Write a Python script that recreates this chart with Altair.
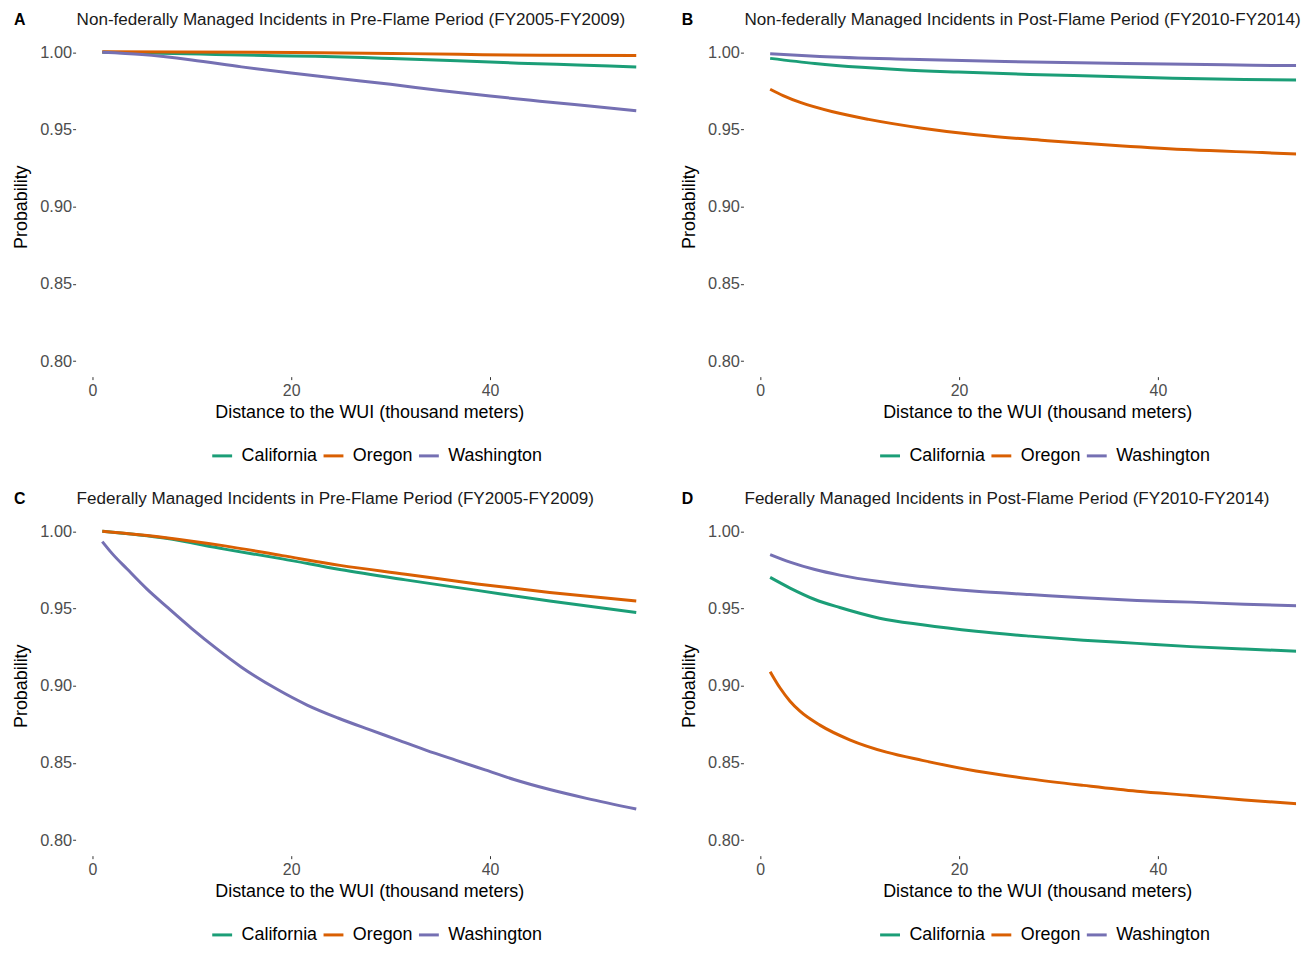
import altair as alt
import pandas as pd

STATES = ["California", "Oregon", "Washington"]
COLORS = ["#1B9E77", "#D95F02", "#7570B3"]
X_TICKS = [0, 20, 40]
Y_TICKS = [0.80, 0.85, 0.90, 0.95, 1.00]
X_TITLE = "Distance to the WUI (thousand meters)"
Y_TITLE = "Probability"

TITLES = [
    "Non-federally Managed Incidents in Pre-Flame Period (FY2005-FY2009)",
    "Non-federally Managed Incidents in Post-Flame Period (FY2010-FY2014)",
    "Federally Managed Incidents in Pre-Flame Period (FY2005-FY2009)",
    "Federally Managed Incidents in Post-Flame Period (FY2010-FY2014)",
]
LETTERS = ["A", "B", "C", "D"]

# Panel A
A_cal_x = [1, 8.2, 12.4, 18.4, 22.4, 27.2, 30.1, 36.7, 42.9, 48.8, 54.7]
A_cal_y = [1.000, 0.9992, 0.9985, 0.9977, 0.9973, 0.9965, 0.9959, 0.9944, 0.9929, 0.9917, 0.9904]
A_ore_x = [1, 20.3, 30.1, 36.9, 45.1, 54.7]
A_ore_y = [1.0003, 0.9998, 0.9992, 0.9986, 0.9980, 0.9978]
A_wa_x = [1, 5, 10, 15, 20, 25, 30, 35, 40, 45, 50, 54.7]
A_wa_y = [1.000, 0.9985, 0.9950, 0.9905, 0.9865, 0.9828, 0.9792, 0.9752, 0.9716, 0.9683, 0.9651, 0.9621]

# Panel B
B_cal_x = [1, 5.5, 10.2, 14.2, 19.9, 27.1, 34.3, 41.5, 48.7, 54.7]
B_cal_y = [0.9960, 0.9927, 0.9902, 0.9886, 0.9871, 0.9856, 0.9844, 0.9831, 0.9823, 0.9819]
B_ore_x = [1, 2.3, 4.1, 7.3, 10.9, 16.3, 21.7, 28.9, 36.1, 43.3, 50.5, 54.7]
B_ore_y = [0.9760, 0.9719, 0.9673, 0.9614, 0.9565, 0.9508, 0.9465, 0.9427, 0.9395, 0.9368, 0.9350, 0.9339]
B_wa_x = [1, 6.0, 14.9, 24.6, 36.8, 44.8, 49.5, 54.7]
B_wa_y = [0.9990, 0.9972, 0.9954, 0.9940, 0.9927, 0.9921, 0.9915, 0.9913]

# Panel C
C_cal_x = [1, 7.4, 13.3, 19.1, 24.9, 31.5, 38.7, 46.0, 54.7]
C_cal_y = [1.000, 0.9954, 0.9884, 0.9821, 0.9752, 0.9685, 0.9617, 0.9548, 0.9474]
C_ore_x = [1, 7.4, 13.3, 19.1, 24.9, 31.5, 38.7, 46.0, 54.7]
C_ore_y = [1.000, 0.9958, 0.9905, 0.9842, 0.9779, 0.9722, 0.9659, 0.9604, 0.9548]
C_wa_x = [1, 2, 3.5, 5.5, 7.5, 10, 12.5, 15, 18.5, 21.6, 24.7,
          27.8, 30.7, 33.6, 36.6, 39.5, 42.4, 46.0, 49.7, 54.7]
C_wa_y = [0.9933, 0.9855, 0.9755, 0.9625, 0.9510, 0.9370, 0.9240, 0.9120, 0.8980, 0.8875, 0.8791,
          0.8717, 0.8650, 0.8582, 0.8517, 0.8455, 0.8393, 0.8328, 0.8271, 0.8202]

# Panel D
D_cal_x = [1, 3.0, 5.5, 8.0, 12.0, 16.3, 21.7, 27.1, 32.5, 37.9, 43.3, 48.7, 54.7]
D_cal_y = [0.9701, 0.9632, 0.9558, 0.9506, 0.9437, 0.9394, 0.9352, 0.9321, 0.9295, 0.9274, 0.9253, 0.9237, 0.9222]
D_ore_x = [1, 2, 3, 4, 6, 9, 12.7, 16.3, 21.7, 27.1, 32.5, 37.9, 43.3, 48.7, 54.7]
D_ore_y = [0.9091, 0.8985, 0.8900, 0.8835, 0.8745, 0.8650, 0.8570, 0.8517, 0.8448, 0.8397, 0.8355,
           0.8317, 0.8290, 0.8261, 0.8233]
D_wa_x = [1, 3.0, 5.5, 8.0, 12.0, 16.3, 21.7, 27.1, 32.5, 37.9, 43.3, 48.7, 54.7]
D_wa_y = [0.9849, 0.9800, 0.9752, 0.9716, 0.9674, 0.9642, 0.9611, 0.9590, 0.9569, 0.9552, 0.9541, 0.9527, 0.9516]

PANELS = [
    [(A_cal_x, A_cal_y), (A_ore_x, A_ore_y), (A_wa_x, A_wa_y)],
    [(B_cal_x, B_cal_y), (B_ore_x, B_ore_y), (B_wa_x, B_wa_y)],
    [(C_cal_x, C_cal_y), (C_ore_x, C_ore_y), (C_wa_x, C_wa_y)],
    [(D_cal_x, D_cal_y), (D_ore_x, D_ore_y), (D_wa_x, D_wa_y)],
]

X_MIN = -1.685
X_MAX_FULL = 57.385
W_FULL = 591          # full panel width (left column)
W_RIGHT = 556         # right column is cut at the page edge, as in the reference
H = 342
FONT = "Liberation Sans"


def panel(i):
    right = i % 2 == 1
    width = W_RIGHT if right else W_FULL
    x_max = X_MIN + (X_MAX_FULL - X_MIN) * width / W_FULL

    rows = []
    for state, (xs, ys) in zip(STATES, PANELS[i]):
        for x, y in zip(xs, ys):
            rows.append({"distance": x, "probability": y, "state": state})
    df = pd.DataFrame(rows)

    lines = alt.Chart(df).mark_line(strokeWidth=3, interpolate="monotone", clip=True).encode(
        x=alt.X(
            "distance:Q",
            scale=alt.Scale(domain=[X_MIN, x_max], nice=False, zero=False),
            axis=alt.Axis(values=X_TICKS, title=X_TITLE, format="d", grid=False, domain=False,
                          tickSize=3, tickColor="#333333", labelColor="#4d4d4d",
                          labelFontSize=16, labelPadding=3, titleFontSize=18,
                          titleFontWeight="normal", titleColor="#000000", titlePadding=5,
                          titleX=W_FULL / 2),
        ),
        y=alt.Y(
            "probability:Q",
            scale=alt.Scale(domain=[0.79, 1.01], nice=False, zero=False),
            axis=alt.Axis(values=Y_TICKS, title=Y_TITLE, format=".2f", grid=False, domain=False,
                          tickSize=3, tickColor="#333333", labelColor="#4d4d4d",
                          labelFontSize=16.5, labelPadding=1, titleFontSize=18,
                          titleFontWeight="normal", titleColor="#000000", titlePadding=9),
        ),
        color=alt.Color(
            "state:N",
            scale=alt.Scale(domain=STATES, range=COLORS),
            legend=alt.Legend(title=None, orient="none", direction="horizontal",
                              legendX=136, legendY=H + 68, padding=0,
                              symbolType="stroke", symbolStrokeWidth=3, symbolSize=400,
                              labelFontSize=18, labelColor="#000000", labelOffset=8,
                              columnPadding=-1),
        ),
    )
    head = pd.DataFrame({"letter": [LETTERS[i]], "title": [TITLES[i]]})
    letter = alt.Chart(head).mark_text(
        fontWeight="bold", fontSize=16, align="left", baseline="middle", color="#000000"
    ).encode(text="letter:N", x=alt.value(-62), y=alt.value(-17))
    title = alt.Chart(head).mark_text(
        fontSize=17.2, align="left", baseline="middle", color="#1a1a1a"
    ).encode(text="title:N", x=alt.value(1), y=alt.value(-17))

    return alt.layer(lines, letter, title).properties(width=width, height=H)


top = alt.hconcat(panel(0), panel(1), spacing=17).resolve_scale(color="independent")
bottom = alt.hconcat(panel(2), panel(3), spacing=17).resolve_scale(color="independent")
chart = alt.vconcat(top, bottom, spacing=25).resolve_scale(color="independent").properties(
    padding={"left": 4, "top": 0, "right": 0, "bottom": 2}
).configure(font=FONT).configure_view(stroke=None)

chart.save("out.html", embed_options={"renderer": "svg", "actions": False})
